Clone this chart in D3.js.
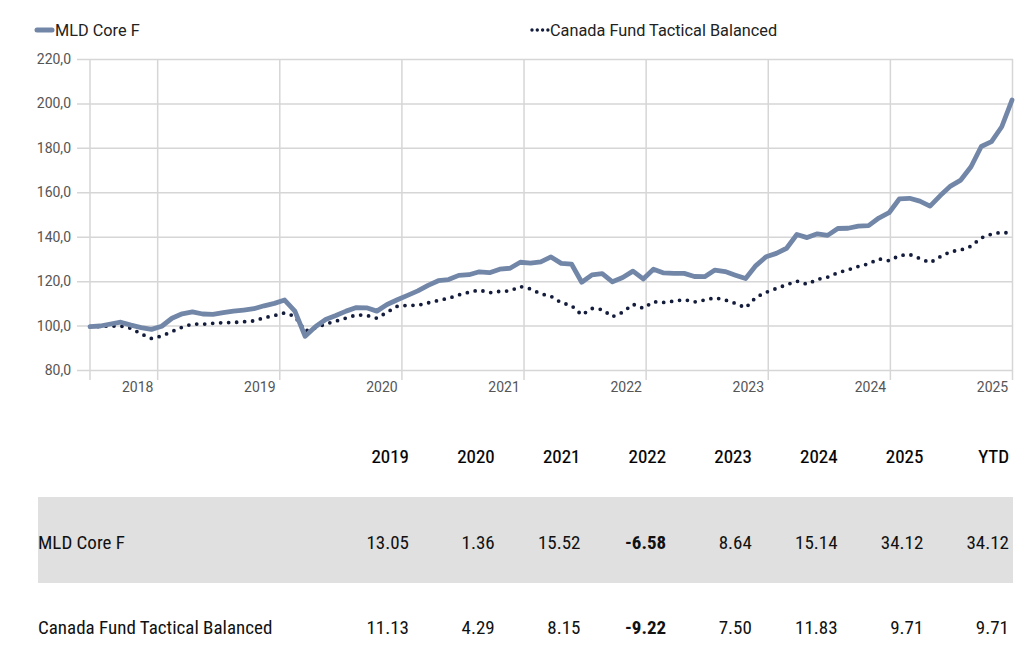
<!DOCTYPE html>
<html>
<head>
<meta charset="utf-8">
<script src="https://cdn.jsdelivr.net/npm/d3@7"></script>
<style>
  body { margin: 0; background: #fff; }
  svg { display: block; }
</style>
</head>
<body>
<div id="chart"></div>
<script>
let WIDTH = 1024
let HEIGHT = 645

// monthly index values, mid-2017 .. start of 2025
let mldCore = [99.5, 99.8, 100.7, 101.5, 100.2, 99.1, 98.3, 99.7, 103.3, 105.3,
  106.2, 105.2, 105.0, 105.8, 106.5, 107.0, 107.6, 108.9, 110.0, 111.5,
  106.5, 95.2, 99.5, 102.7, 104.5, 106.5, 108.1, 108.0, 106.5, 109.5,
  111.6, 113.6, 115.6, 118.1, 120.2, 120.7, 122.6, 122.9, 124.2, 123.8,
  125.4, 125.8, 128.5, 128.1, 128.7, 130.9, 128.0, 127.7, 119.5, 122.8,
  123.4, 119.7, 121.6, 124.5, 121.0, 125.4, 123.7, 123.5, 123.5, 122.1,
  122.0, 125.0, 124.3, 122.7, 121.2, 127.0, 131.0, 132.5, 134.8, 141.0,
  139.6, 141.3, 140.6, 143.7, 143.8, 144.8, 145.0, 148.4, 150.8, 157.0,
  157.3, 156.0, 153.8, 158.5, 162.8, 165.5, 171.5, 180.6, 182.8, 189.5,
  201.5]
let canadaFund = [99.5, 99.6, 99.8, 99.8, 98.8, 96.2, 94.2, 95.3, 97.3, 99.3,
  100.7, 100.6, 101.0, 101.3, 101.4, 101.7, 102.1, 103.5, 104.5, 105.7,
  104.2, 97.5, 99.0, 100.7, 102.0, 103.4, 104.8, 104.6, 103.3, 106.0,
  108.7, 109.1, 109.1, 110.2, 111.3, 112.3, 113.8, 115.0, 116.0, 114.8,
  115.4, 115.6, 117.6, 116.5, 114.3, 113.2, 110.3, 109.0, 104.8, 107.7,
  107.2, 104.0, 106.0, 109.6, 107.8, 110.7, 110.4, 111.0, 111.7, 110.6,
  111.5, 112.5, 111.5, 110.0, 108.0, 112.7, 115.0, 116.7, 118.4, 120.0,
  118.6, 120.8, 121.8, 123.8, 125.1, 126.6, 127.8, 130.0, 129.2, 131.5,
  132.0, 130.2, 128.3, 131.0, 133.3, 134.0, 135.7, 139.5, 141.2, 142.0,
  141.5]

let seriesNames = ['MLD Core F', 'Canada Fund Tactical Balanced']
let axisYears = [2018, 2019, 2020, 2021, 2022, 2023, 2024, 2025]
let yTicks = [80, 100, 120, 140, 160, 180, 200, 220]

let tableCols = ['2019', '2020', '2021', '2022', '2023', '2024', '2025', 'YTD']
let mldReturns = ['13.05', '1.36', '15.52', '-6.58', '8.64', '15.14', '34.12', '34.12']
let canadaReturns = ['11.13', '4.29', '8.15', '-9.22', '7.50', '11.83', '9.71', '9.71']

let LINE_COLOR = '#7286a8'
let DOT_COLOR = '#141c3c'
let GRID = '#d6d6d6'
let TABLE_FONT = "'Roboto Condensed', 'Liberation Sans Narrow', 'DejaVu Sans Condensed', Roboto, sans-serif"

let svg = d3.select('#chart')
    .append('svg')
    .attr('width', WIDTH)
    .attr('height', HEIGHT)
    .style('font-family', 'Roboto, sans-serif')

svg.append('rect').attr('width', WIDTH).attr('height', HEIGHT).attr('fill', '#fff')

let plot = {left: 90, right: 1012, top: 59, bottom: 370}

let xIdx = d3.scaleLinear()
    .domain([0, mldCore.length - 1])
    .range([plot.left, plot.right])
let xYear = d3.scaleLinear()
    .domain([2017.45, 2025])
    .range([plot.left, plot.right])
let y = d3.scaleLinear()
    .domain([80, 220])
    .range([plot.bottom, plot.top])

// horizontal grid + y labels
let yAxis = d3.axisLeft(y)
    .tickValues(yTicks)
    .tickSize(-(plot.right + 1 - 77))
    .tickPadding(6)
    .tickFormat(d => d3.format('.1f')(d).replace('.', ','))
let gy = svg.append('g')
    .attr('transform', `translate(77,0)`)
    .call(yAxis)
gy.select('.domain').remove()
gy.selectAll('line').attr('stroke', GRID).attr('stroke-width', 1.5).attr('x1', 0).attr('x2', plot.right + 1 - 77)
gy.selectAll('text')
    .attr('x', -6)
    .attr('fill', '#555')
    .style('font-size', '14px')
    .style('font-family', 'Roboto, sans-serif')

// vertical grid + year labels
let xAxis = d3.axisBottom(xYear)
    .tickValues(axisYears)
    .tickSize(-(plot.bottom - plot.top))
    .tickFormat(d3.format('d'))
let gx = svg.append('g')
    .attr('transform', `translate(0,${plot.bottom})`)
    .call(xAxis)
gx.select('.domain').remove()
gx.selectAll('line')
    .attr('stroke', GRID)
    .attr('stroke-width', 1.5)
    .attr('y1', 10)
gx.selectAll('text')
    .attr('x', -20)
    .attr('y', 12)
    .attr('fill', '#555')
    .style('font-size', '14px')
    .style('font-family', 'Roboto, sans-serif')

// first tick at the start of the series
svg.append('line')
    .attr('x1', xIdx(0)).attr('x2', xIdx(0))
    .attr('y1', plot.top).attr('y2', plot.bottom + 10)
    .attr('stroke', GRID).attr('stroke-width', 1.5)

let line = d3.line()
    .x((d, i) => xIdx(i))
    .y(d => y(d))

svg.append('path')
    .datum(canadaFund)
    .attr('d', line)
    .attr('fill', 'none')
    .attr('stroke', DOT_COLOR)
    .attr('stroke-width', 3.8)
    .attr('stroke-linecap', 'round')
    .attr('stroke-dasharray', '0,8')

svg.append('path')
    .datum(mldCore)
    .attr('d', line)
    .attr('fill', 'none')
    .attr('stroke', LINE_COLOR)
    .attr('stroke-width', 4.8)
    .attr('stroke-linejoin', 'round')
    .attr('stroke-linecap', 'round')

// legend
let leg = svg.append('g').style('font-size', '16.3px').attr('fill', '#222')
leg.append('line')
    .attr('x1', 37).attr('x2', 52).attr('y1', 30).attr('y2', 30)
    .attr('stroke', LINE_COLOR).attr('stroke-width', 5).attr('stroke-linecap', 'round')
leg.append('text').attr('x', 55).attr('y', 36).text(seriesNames[0])
leg.append('line')
    .attr('x1', 532).attr('x2', 548).attr('y1', 30).attr('y2', 30)
    .attr('stroke', DOT_COLOR).attr('stroke-width', 3.4)
    .attr('stroke-linecap', 'round').attr('stroke-dasharray', '0,5.3')
leg.append('text').attr('x', 550).attr('y', 36).text(seriesNames[1])

// returns table
let colX = d3.scalePoint()
    .domain(tableCols)
    .range([409, 1009])

let tbl = svg.append('g')
    .style('font-family', TABLE_FONT)
    .style('font-size', '19px')
    .attr('fill', '#111')

tbl.append('rect')
    .attr('x', 38).attr('y', 497)
    .attr('width', 1013 - 38).attr('height', 86)
    .attr('fill', '#e0e0e0')

tbl.selectAll('text.head')
    .data(tableCols)
    .join('text')
    .attr('class', 'head')
    .attr('x', d => colX(d))
    .attr('y', 463)
    .attr('text-anchor', 'end')
    .attr('fill', '#000')
    .attr('stroke', '#000')
    .attr('stroke-width', 0.2)
    .text(d => d)

let rows = [
    {name: seriesNames[0], vals: mldReturns, y: 549},
    {name: seriesNames[1], vals: canadaReturns, y: 634}
]
rows.forEach(r => {
    tbl.append('text').attr('x', 38).attr('y', r.y).text(r.name)
    tbl.selectAll(null)
        .data(r.vals)
        .join('text')
        .attr('x', (d, i) => colX(tableCols[i]))
        .attr('y', r.y)
        .attr('text-anchor', 'end')
        .style('font-weight', d => d.startsWith('-') ? 700 : 400)
        .text(d => d)
})
</script>
</body>
</html>
